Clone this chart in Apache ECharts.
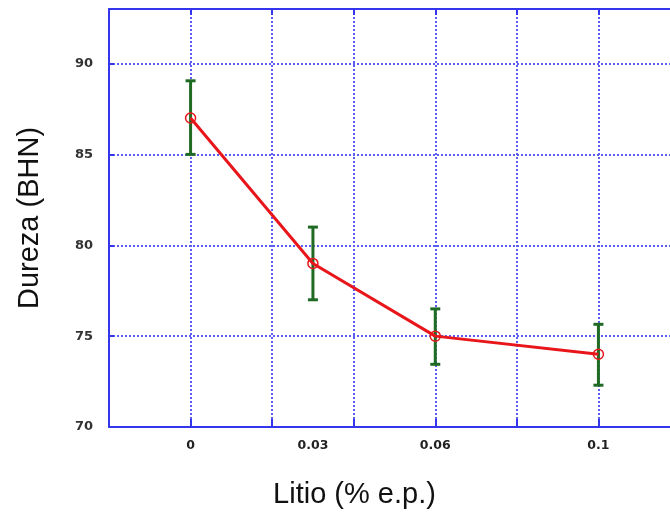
<!DOCTYPE html>
<html>
<head>
<meta charset="utf-8">
<script src="https://cdn.jsdelivr.net/npm/echarts@6/dist/echarts.min.js"></script>
<style>
html,body{margin:0;padding:0;background:#fff;overflow:hidden;}
#c{width:670px;height:515px;}
</style>
</head>
<body>
<div id="c"></div>
<script>
// Data
var litio = [0, 0.03, 0.06, 0.1];
var dureza = [87, 79, 75, 74];
var errLow = [85, 77, 73.45, 72.3];
var errHigh = [89.05, 81, 76.5, 75.65];
var xTickLabels = [0, 0.03, 0.06, 0.1];
var yTicks = [70, 75, 80, 85, 90];

var lineData = litio.map(function (x, i) { return [x, dureza[i]]; });
var errData = litio.map(function (x, i) { return [x, errLow[i], errHigh[i]]; });

var blue = '#3535ee';
var gridBlue = '#5c5cf2';

var chart = echarts.init(document.getElementById('c'), null, {renderer: 'canvas'});
chart.setOption({
  backgroundColor: '#ffffff',
  animation: false,
  grid: {left: 109, width: 571, top: 9, bottom: 88, containLabel: false, outerBoundsMode: 'none'},
  xAxis: [{
    type: 'value',
    min: -0.02, max: 0.12, interval: 0.02,
    axisLine: {show: true, onZero: false, lineStyle: {color: blue, width: 2}},
    axisTick: {show: true, inside: true, length: 8, lineStyle: {color: blue, width: 2}},
    axisLabel: {
      show: true,
      customValues: xTickLabels,
      formatter: function (v) { return String(v); },
      color: '#222', fontFamily: 'DejaVu Sans', fontWeight: 'bold', fontSize: 12.5, margin: 12
    },
    splitLine: {show: true, lineStyle: {color: gridBlue, type: [2, 2], width: 2}},
    name: 'Litio (% e.p.)',
    nameLocation: 'middle',
    nameGap: 53,
    nameTextStyle: {color: '#111', fontFamily: 'Liberation Sans', fontSize: 29, padding: [0, 80, 0, 0]}
  }, {
    type: 'value', position: 'top',
    min: -0.02, max: 0.12, interval: 0.02,
    axisLine: {show: true, onZero: false, lineStyle: {color: blue, width: 2}},
    axisTick: {show: true, inside: true, length: 6, lineStyle: {color: blue, width: 2}},
    axisLabel: {show: false},
    splitLine: {show: false}
  }],
  yAxis: {
    type: 'value',
    min: 70, max: 93, interval: 5,
    axisLine: {show: true, onZero: false, lineStyle: {color: blue, width: 2}},
    axisTick: {show: true, inside: true, length: 5, lineStyle: {color: blue, width: 2}},
    axisLabel: {
      color: '#333', fontFamily: 'DejaVu Sans', fontWeight: 'bold', fontSize: 13, margin: 16,
      formatter: function (v) { return yTicks.indexOf(v) >= 0 ? String(v) : ''; }
    },
    splitLine: {show: true, lineStyle: {color: gridBlue, type: [2, 2], width: 2}},
    name: 'Dureza (BHN)',
    nameLocation: 'middle',
    nameGap: 65,
    nameTextStyle: {color: '#111', fontFamily: 'Liberation Sans', fontSize: 29}
  },
  series: [{
    type: 'custom',
    data: errData,
    z: 3,
    renderItem: function (params, api) {
      var x = api.value(0);
      var lo = api.coord([x, api.value(1)]);
      var hi = api.coord([x, api.value(2)]);
      var hw = 5;
      var st = {stroke: '#1f6b24', lineWidth: 3};
      return {
        type: 'group',
        children: [
          {type: 'line', shape: {x1: lo[0], y1: lo[1], x2: hi[0], y2: hi[1]}, style: st},
          {type: 'line', shape: {x1: lo[0] - hw, y1: lo[1], x2: lo[0] + hw, y2: lo[1]}, style: st},
          {type: 'line', shape: {x1: hi[0] - hw, y1: hi[1], x2: hi[0] + hw, y2: hi[1]}, style: st}
        ]
      };
    }
  }, {
    type: 'line',
    data: lineData,
    z: 4,
    lineStyle: {color: '#e8161a', width: 3},
    symbol: 'circle',
    symbolSize: 10,
    showSymbol: true,
    itemStyle: {color: 'rgba(255,255,255,0)', borderColor: '#e8161a', borderWidth: 1.5}
  }]
});
</script>
</body>
</html>
